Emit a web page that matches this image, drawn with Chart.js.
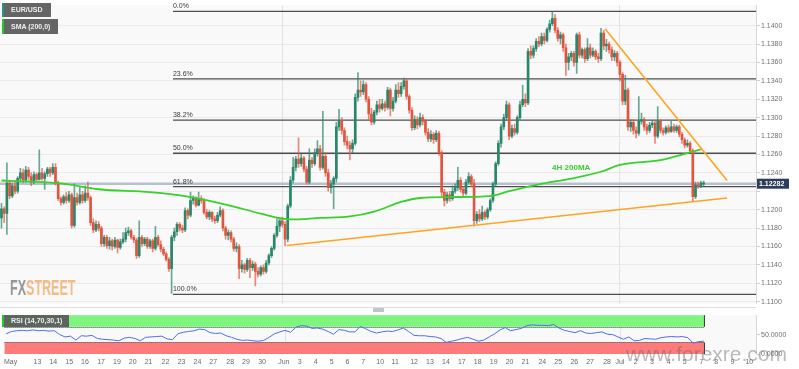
<!DOCTYPE html>
<html><head><meta charset="utf-8">
<script src="https://cdn.jsdelivr.net/npm/chart.js@4.4.1/dist/chart.umd.min.js"></script>
<style>
html,body{margin:0;padding:0;background:#fff;overflow:hidden}
#wrap{position:relative;width:799px;height:369px;font-family:"Liberation Sans",Arial,sans-serif}
canvas{position:absolute;left:0}
#c1{top:0}
#c2{top:310px}
.tag{position:absolute;left:2px;background:rgba(88,88,88,0.92);color:#f0f0f0;font-size:7px;font-weight:bold;box-sizing:border-box;padding-left:7px;white-space:nowrap}
#sep{position:absolute;left:0;top:307px;width:756px;height:1px;background:#dedee2}
#handle{position:absolute;left:373px;top:308px;width:11px;height:4px;background:#c4c4c8}
#logo{position:absolute;left:10px;top:275px;font-weight:bold;font-size:22px;transform:scaleX(0.57);transform-origin:left top;letter-spacing:0;opacity:0.85}
#wm{position:absolute;left:626px;top:342px;font-size:21px;color:rgba(105,105,105,0.45);white-space:nowrap}
</style></head>
<body><div id="wrap">
<canvas id="c1" width="799" height="309"></canvas>
<canvas id="c2" width="799" height="59"></canvas>
<div id="sep"></div><div id="handle"></div>
<div class="tag" style="top:3px;width:49px;height:14px;line-height:14px;border-left:2px solid #2b8f8f">EUR/USD</div>
<div class="tag" style="top:19px;width:56px;height:15px;line-height:15px;border-left:2px solid #22cc22">SMA (200,0)</div>
<div class="tag" style="top:315px;width:67px;height:12px;line-height:12px;border-left:2px solid #22cc22">RSI (14,70,30,1)</div>
<div id="logo"><span style="color:#858585">FX</span><span style="color:#f0b272">STREET</span></div>
<div id="wm">www.forexre.com</div>
</div>
<script>
// ---- 4H candles, EUR/USD ----
const opens = [
1.1191,1.1201,1.1196,1.1229,1.1215,1.1226,1.1220,1.1234,1.1240,1.1232,
1.1243,1.1236,1.1230,1.1238,1.1233,1.1240,1.1234,1.1239,1.1244,1.1240,
1.1246,1.1229,1.1212,1.1208,1.1214,1.1210,1.1216,1.1183,1.1213,1.1208,
1.1216,1.1210,1.1218,1.1213,1.1186,1.1178,1.1184,1.1180,1.1163,1.1170,
1.1161,1.1166,1.1160,1.1167,1.1159,1.1165,1.1168,1.1175,1.1177,1.1170,
1.1167,1.1150,1.1170,1.1163,1.1168,1.1160,1.1166,1.1158,1.1170,1.1162,
1.1157,1.1152,1.1146,1.1136,1.1170,1.1176,1.1184,1.1180,1.1178,1.1199,
1.1194,1.1210,1.1213,1.1205,1.1212,1.1210,1.1197,1.1192,1.1197,1.1190,
1.1188,1.1194,1.1199,1.1180,1.1172,1.1175,1.1168,1.1158,1.1160,1.1136,
1.1140,1.1135,1.1145,1.1137,1.1141,1.1133,1.1130,1.1137,1.1133,1.1142,
1.1150,1.1158,1.1172,1.1182,1.1188,1.1184,1.1168,1.1204,1.1232,1.1246,
1.1255,1.1250,1.1256,1.1244,1.1230,1.1254,1.1250,1.1262,1.1266,1.1246,
1.1258,1.1240,1.1224,1.1228,1.1234,1.1290,1.1296,1.1286,1.1274,1.1270,
1.1266,1.1272,1.1322,1.1330,1.1328,1.1336,1.1320,1.1304,1.1295,1.1306,
1.1314,1.1310,1.1315,1.1311,1.1330,1.1310,1.1318,1.1330,1.1326,1.1334,
1.1340,1.1323,1.1308,1.1289,1.1298,1.1292,1.1300,1.1296,1.1284,1.1277,
1.1282,1.1276,1.1283,1.1262,1.1219,1.1210,1.1216,1.1212,1.1220,1.1224,
1.1232,1.1222,1.1218,1.1230,1.1236,1.1228,1.1188,1.1195,1.1190,1.1197,
1.1192,1.1200,1.1210,1.1228,1.1250,1.1272,1.1290,1.1300,1.1314,1.1280,
1.1288,1.1284,1.1300,1.1314,1.1320,1.1316,1.1372,1.1368,1.1375,1.1383,
1.1380,1.1388,1.1384,1.1396,1.1402,1.1408,1.1395,1.1386,1.1390,1.1376,
1.1360,1.1366,1.1370,1.1360,1.1390,1.1368,1.1374,1.1364,1.1376,1.1368,
1.1372,1.1366,1.1364,1.1392,1.1378,1.1380,1.1374,1.1366,1.1370,1.1360,
1.1347,1.1318,1.1330,1.1290,1.1295,1.1286,1.1283,1.1296,1.1298,1.1290,
1.1286,1.1292,1.1294,1.1280,1.1296,1.1286,1.1284,1.1289,1.1285,1.1290,
1.1286,1.1290,1.1282,1.1276,1.1270,1.1272,1.1264,1.1214,1.1227,1.1225,1.1228];
const highs = [
1.1207,1.1203,1.1251,1.1232,1.1229,1.1230,1.1236,1.1245,1.1244,1.1247,
1.1246,1.1240,1.1241,1.1240,1.1265,1.1245,1.1241,1.1246,1.1246,1.1250,
1.1250,1.1231,1.1214,1.1216,1.1219,1.1220,1.1218,1.1228,1.1218,1.1224,
1.1220,1.1226,1.1230,1.1215,1.1190,1.1188,1.1187,1.1182,1.1172,1.1172,
1.1170,1.1168,1.1170,1.1168,1.1168,1.1175,1.1180,1.1181,1.1179,1.1172,
1.1169,1.1188,1.1172,1.1170,1.1170,1.1168,1.1168,1.1182,1.1172,1.1166,
1.1159,1.1154,1.1148,1.1172,1.1180,1.1186,1.1186,1.1183,1.1202,1.1201,
1.1219,1.1215,1.1214,1.1219,1.1215,1.1212,1.1200,1.1199,1.1198,1.1193,
1.1197,1.1203,1.1201,1.1182,1.1178,1.1177,1.1170,1.1164,1.1162,1.1145,
1.1142,1.1147,1.1147,1.1144,1.1143,1.1137,1.1139,1.1140,1.1145,1.1152,
1.1160,1.1174,1.1190,1.1191,1.1192,1.1187,1.1206,1.1236,1.1257,1.1258,
1.1278,1.1260,1.1258,1.1247,1.1266,1.1257,1.1266,1.1275,1.1270,1.1307,
1.1262,1.1244,1.1232,1.1236,1.1295,1.1309,1.1300,1.1289,1.1280,1.1274,
1.1276,1.1326,1.1349,1.1340,1.1340,1.1338,1.1323,1.1310,1.1308,1.1318,
1.1320,1.1320,1.1318,1.1333,1.1332,1.1322,1.1336,1.1338,1.1338,1.1343,
1.1342,1.1325,1.1311,1.1302,1.1301,1.1305,1.1303,1.1298,1.1288,1.1286,
1.1284,1.1286,1.1285,1.1264,1.1222,1.1219,1.1220,1.1226,1.1228,1.1246,
1.1235,1.1225,1.1233,1.1240,1.1238,1.1233,1.1198,1.1200,1.1204,1.1199,
1.1202,1.1212,1.1230,1.1252,1.1275,1.1293,1.1304,1.1318,1.1316,1.1292,
1.1293,1.1302,1.1318,1.1335,1.1326,1.1375,1.1378,1.1378,1.1386,1.1388,
1.1392,1.1392,1.1398,1.1406,1.1415,1.1412,1.1398,1.1393,1.1392,1.1380,
1.1370,1.1372,1.1372,1.1392,1.1393,1.1376,1.1376,1.1386,1.1380,1.1376,
1.1374,1.1370,1.1397,1.1395,1.1385,1.1382,1.1377,1.1373,1.1372,1.1362,
1.1349,1.1346,1.1332,1.1298,1.1298,1.1290,1.1323,1.1305,1.1300,1.1293,
1.1295,1.1297,1.1296,1.1312,1.1298,1.1289,1.1291,1.1292,1.1296,1.1293,
1.1292,1.1292,1.1284,1.1278,1.1276,1.1274,1.1266,1.1230,1.1230,1.1231,1.1231];
const lows = [
1.1180,1.1186,1.1173,1.1212,1.1213,1.1217,1.1218,1.1230,1.1229,1.1230,
1.1233,1.1226,1.1228,1.1231,1.1232,1.1232,1.1222,1.1236,1.1236,1.1238,
1.1227,1.1210,1.1205,1.1206,1.1207,1.1208,1.1180,1.1181,1.1205,1.1206,
1.1207,1.1208,1.1210,1.1183,1.1175,1.1176,1.1177,1.1160,1.1160,1.1158,
1.1157,1.1156,1.1158,1.1153,1.1157,1.1163,1.1165,1.1172,1.1168,1.1164,
1.1147,1.1148,1.1160,1.1161,1.1158,1.1158,1.1154,1.1156,1.1160,1.1154,
1.1150,1.1144,1.1133,1.1109,1.1166,1.1172,1.1177,1.1175,1.1176,1.1190,
1.1192,1.1206,1.1203,1.1204,1.1207,1.1195,1.1190,1.1189,1.1187,1.1185,
1.1186,1.1192,1.1177,1.1168,1.1167,1.1165,1.1155,1.1154,1.1125,1.1132,
1.1131,1.1133,1.1126,1.1134,1.1117,1.1127,1.1128,1.1130,1.1131,1.1140,
1.1148,1.1156,1.1170,1.1176,1.1181,1.1161,1.1165,1.1202,1.1229,1.1242,
1.1246,1.1247,1.1241,1.1228,1.1228,1.1246,1.1248,1.1258,1.1243,1.1244,
1.1236,1.1220,1.1218,1.1201,1.1230,1.1286,1.1282,1.1270,1.1266,1.1254,
1.1262,1.1270,1.1318,1.1323,1.1325,1.1317,1.1298,1.1292,1.1293,1.1303,
1.1306,1.1308,1.1307,1.1309,1.1302,1.1307,1.1316,1.1322,1.1323,1.1331,
1.1320,1.1305,1.1286,1.1287,1.1288,1.1290,1.1292,1.1281,1.1274,1.1274,
1.1272,1.1274,1.1259,1.1215,1.1204,1.1207,1.1209,1.1210,1.1218,1.1221,
1.1219,1.1215,1.1216,1.1228,1.1225,1.1182,1.1185,1.1187,1.1188,1.1189,
1.1190,1.1198,1.1208,1.1226,1.1248,1.1268,1.1287,1.1297,1.1276,1.1278,
1.1281,1.1282,1.1298,1.1312,1.1312,1.1314,1.1364,1.1365,1.1372,1.1377,
1.1378,1.1380,1.1382,1.1393,1.1400,1.1392,1.1383,1.1380,1.1372,1.1346,
1.1352,1.1362,1.1356,1.1348,1.1365,1.1365,1.1360,1.1362,1.1365,1.1366,
1.1363,1.1360,1.1362,1.1374,1.1372,1.1370,1.1362,1.1362,1.1356,1.1340,
1.1314,1.1314,1.1286,1.1285,1.1282,1.1278,1.1281,1.1293,1.1286,1.1282,
1.1284,1.1289,1.1272,1.1278,1.1283,1.1281,1.1282,1.1283,1.1284,1.1284,
1.1284,1.1279,1.1272,1.1267,1.1268,1.1262,1.1209,1.1212,1.1223,1.1224,1.1226];
const closes = [
1.1201,1.1196,1.1229,1.1215,1.1226,1.1220,1.1234,1.1240,1.1232,1.1243,
1.1236,1.1230,1.1238,1.1233,1.1240,1.1234,1.1239,1.1244,1.1240,1.1246,
1.1229,1.1212,1.1208,1.1214,1.1210,1.1216,1.1183,1.1213,1.1208,1.1216,
1.1210,1.1218,1.1213,1.1186,1.1178,1.1184,1.1180,1.1163,1.1170,1.1161,
1.1166,1.1160,1.1167,1.1159,1.1165,1.1168,1.1175,1.1177,1.1170,1.1167,
1.1150,1.1170,1.1163,1.1168,1.1160,1.1166,1.1158,1.1170,1.1162,1.1157,
1.1152,1.1146,1.1136,1.1170,1.1176,1.1184,1.1180,1.1178,1.1199,1.1194,
1.1210,1.1213,1.1205,1.1212,1.1210,1.1197,1.1192,1.1197,1.1190,1.1188,
1.1194,1.1199,1.1180,1.1172,1.1175,1.1168,1.1158,1.1160,1.1136,1.1140,
1.1135,1.1145,1.1137,1.1141,1.1133,1.1130,1.1137,1.1133,1.1142,1.1150,
1.1158,1.1172,1.1182,1.1188,1.1184,1.1168,1.1204,1.1232,1.1246,1.1255,
1.1250,1.1256,1.1244,1.1230,1.1254,1.1250,1.1262,1.1266,1.1246,1.1258,
1.1240,1.1224,1.1228,1.1234,1.1290,1.1296,1.1286,1.1274,1.1270,1.1266,
1.1272,1.1322,1.1330,1.1328,1.1336,1.1320,1.1304,1.1295,1.1306,1.1314,
1.1310,1.1315,1.1311,1.1330,1.1310,1.1318,1.1330,1.1326,1.1334,1.1340,
1.1323,1.1308,1.1289,1.1298,1.1292,1.1300,1.1296,1.1284,1.1277,1.1282,
1.1276,1.1283,1.1262,1.1219,1.1210,1.1216,1.1212,1.1220,1.1224,1.1232,
1.1222,1.1218,1.1230,1.1236,1.1228,1.1188,1.1195,1.1190,1.1197,1.1192,
1.1200,1.1210,1.1228,1.1250,1.1272,1.1290,1.1300,1.1314,1.1280,1.1288,
1.1284,1.1300,1.1314,1.1320,1.1316,1.1372,1.1368,1.1375,1.1383,1.1380,
1.1388,1.1384,1.1396,1.1402,1.1408,1.1395,1.1386,1.1390,1.1376,1.1360,
1.1366,1.1370,1.1360,1.1390,1.1368,1.1374,1.1364,1.1376,1.1368,1.1372,
1.1366,1.1364,1.1392,1.1378,1.1380,1.1374,1.1366,1.1370,1.1360,1.1347,
1.1318,1.1330,1.1290,1.1295,1.1286,1.1283,1.1296,1.1298,1.1290,1.1286,
1.1292,1.1294,1.1280,1.1296,1.1286,1.1284,1.1289,1.1285,1.1290,1.1286,
1.1290,1.1282,1.1276,1.1270,1.1272,1.1264,1.1214,1.1227,1.1225,1.1229,1.12282];

// SMA(200) on 4H, sampled at candle indices
const smaIdx  = [0,10,22,36,55,70,85,96,107,118,129,138,148,155,166,181,188,199,211,222,229,244,255,259];
const smaVals = [1.12317,1.12306,1.12285,1.12222,1.12190,1.12137,1.12042,1.11957,1.11894,1.11910,1.11926,1.11979,
                 1.12084,1.12127,1.12137,1.12148,1.12201,1.12275,1.12338,1.12412,1.12486,1.12539,1.12623,1.12655];

// RSI(14), one value every 2 candles
const rsi = [52,58,60,61,60,62,60,61,59,60,
 50,44,46,36,47,46,48,40,38,37,
 36,34,41,43,40,34,43,44,45,46,
 39,37,52,56,58,60,64,63,55,53,
 54,47,43,38,35,36,34,33,35,43,
 52,57,61,56,69,73,72,66,67,64,
 58,51,63,61,57,57,71,65,58,54,
 57,59,58,62,67,58,48,47,47,45,
 44,40,30,33,36,40,43,38,33,36,
 44,52,62,68,60,63,66,73,75,74,
 74,73,76,67,61,58,55,60,54,53,
 55,57,51,50,44,38,44,34,35,40,
 39,38,42,44,45,44,45,42,28,32,
 33];

// Fibonacci retracement (high 25 Jun, low 23 May)
const fibLabels = ['0.0%','23.6%','38.2%','50.0%','61.8%','100.0%'];
const fibLevels = [1.14155,1.13422,1.12974,1.12613,1.12251,1.11080];
const fibStartIdx = 63.5;

// trend lines [index, price]
const supportLine    = [[105.6,1.11610],[268.7,1.12127]];
const resistanceLine = [[223.5,1.13966],[268.7,1.12317]];
const maLabel = {x:203.9, y:1.12452, text:'4H 200MA'};

// axis ticks
const priceTicks = [1.1100,1.1120,1.1140,1.1160,1.1180,1.1200,1.1220,1.1240,1.1260,1.1280,1.1300,1.1320,1.1340,1.1360,1.1380,1.1400];
const rsiTicks = [0,50];
const tickLabels = ['May','13','14','15','16','17','19','20','21','22','23','24','27','28','29','30',
 'Jun','3','4','5','6','7','10','11','12','13','14','17','18','19','20','21','24','25','26','27','28',
 'Jul','2','3','4','5','7','8','9','10'];
const tickPos = [1.7,11.7,17.6,23.5,29.4,35.4,41.3,47.2,53.1,59.4,65.4,71.3,77.2,83.5,89.4,95.4,
 103.5,109.4,115.4,121.3,127.2,133.1,139.4,145.0,152.0,157.9,163.9,169.8,175.7,181.7,187.6,193.5,199.8,205.7,211.7,217.6,223.9,
 228.7,234.6,240.6,246.9,252.8,259.1,264.6,270.6,276.9];
const monthPos = [103.9,228.7];

const xMin = -0.55, xMax = 279.4;
const yMin = 1.10977, yMax = 1.14222;
const lastIdx = closes.length - 1;
const lastPrice = closes[lastIdx];

const UP = '#2a8669', DN = '#e1553f';
const UPW = 'rgba(42,134,105,0.7)', DNW = 'rgba(225,85,63,0.7)';
const idx = closes.map((_, i) => i);
const isUp = idx.map(i => closes[i] >= opens[i]);

const FONT = '"Liberation Sans", Arial, sans-serif';
const axisFont = {family: FONT, size: 7};

const bgPlugin = {
  id: 'bgfill',
  beforeDraw(ch) {
    const {ctx, chartArea: a} = ch;
    ctx.save();
    ctx.fillStyle = '#ffffff'; ctx.fillRect(0, 0, ch.width, ch.height);
    ctx.fillStyle = '#f9f9fa'; ctx.fillRect(a.left, a.top, a.right - a.left, a.bottom - a.top);
    ctx.restore();
  }
};
const monthLines = {
  id: 'monthlines',
  beforeDatasetsDraw(ch) {
    const {ctx, chartArea: a, scales: {x}} = ch;
    ctx.save(); ctx.strokeStyle = '#e2e2e6'; ctx.lineWidth = 1;
    monthPos.forEach(m => { const px = Math.round(x.getPixelForValue(m)) + 0.5;
      ctx.beginPath(); ctx.moveTo(px, a.top); ctx.lineTo(px, a.bottom); ctx.stroke(); });
    ctx.restore();
  }
};
const mainOverlay = {
  id: 'mainOverlay',
  afterDatasetsDraw(ch) {
    const {ctx, chartArea: a, scales: {x, y}} = ch;
    ctx.save();
    ctx.font = '7px ' + FONT; ctx.fillStyle = '#3a3a3a'; ctx.textAlign = 'left'; ctx.textBaseline = 'bottom';
    const fx = x.getPixelForValue(fibStartIdx);
    fibLevels.forEach((lv, i) => ctx.fillText(fibLabels[i], fx, y.getPixelForValue(lv) - 1.5));
    ctx.font = 'bold 8px ' + FONT; ctx.fillStyle = '#3ccc2e'; ctx.textBaseline = 'middle';
    ctx.fillText(maLabel.text, x.getPixelForValue(maLabel.x), y.getPixelForValue(maLabel.y));
    const py = y.getPixelForValue(lastPrice);
    ctx.fillStyle = '#2c3e5c';
    ctx.fillRect(a.right + 1, py - 5, 32, 10);
    ctx.fillStyle = '#ffffff'; ctx.font = 'bold 7px ' + FONT; ctx.textBaseline = 'middle';
    ctx.fillText(lastPrice.toFixed(5), a.right + 3, py + 0.5);
    ctx.restore();
  }
};

const line = (pts, color, width, order, extra) => Object.assign({
  type: 'line', data: pts.map(p => ({x: p[0], y: p[1]})), borderColor: color, borderWidth: width,
  pointRadius: 0, fill: false, order: order, tension: 0
}, extra || {});

const datasets = [];
fibLevels.forEach(lv => datasets.push(line([[fibStartIdx, lv], [xMax, lv]], '#4e4e4e', 1.3, 20)));
datasets.push(line([[xMin, lastPrice], [xMax, lastPrice]], '#b6c0d0', 2.5, 19));
datasets.push({type: 'bar', data: idx.map(i => ({x: i, y: [lows[i], highs[i]]})),
  backgroundColor: idx.map(i => isUp[i] ? UPW : DNW), barThickness: 1, grouped: false, order: 15});
datasets.push({type: 'bar', data: idx.map(i => ({x: i, y: [opens[i], closes[i]]})),
  backgroundColor: idx.map(i => isUp[i] ? UP : DN), barThickness: 2, minBarLength: 1, grouped: false, order: 14});
datasets.push(line(smaIdx.map((v, k) => [v, smaVals[k]]), '#38d02a', 1.8, 5, {cubicInterpolationMode: 'monotone'}));
datasets.push(line(supportLine, '#ffa41f', 1.6, 4));
datasets.push(line(resistanceLine, '#ffa41f', 1.6, 4));

new Chart(document.getElementById('c1'), {
  type: 'bar',
  data: {datasets},
  options: {
    responsive: false, animation: false, events: [],
    layout: {padding: {top: 1, bottom: 1, left: 0, right: 0}},
    plugins: {legend: {display: false}, tooltip: {enabled: false}},
    scales: {
      x: {type: 'linear', min: xMin, max: xMax, offset: false, display: false},
      y: {type: 'linear', position: 'right', min: yMin, max: yMax,
        afterBuildTicks: s => { s.ticks = priceTicks.map(v => ({value: v})); },
        afterFit: s => { s.width = 43; },
        ticks: {font: axisFont, color: '#707070', padding: 1,
          callback: v => Math.abs(v - lastPrice) < 0.0009 ? '' : v.toFixed(4)},
        grid: {color: '#ebebee', tickLength: 4, tickColor: '#cfcfd4'},
        border: {color: '#d6d6dc'}}
    }
  },
  plugins: [bgPlugin, monthLines, mainOverlay]
});

// ---- RSI panel ----
const rsiOverlay = {
  id: 'rsiBands',
  beforeDatasetsDraw(ch) {
    const {ctx, chartArea: a, scales: {x, y}} = ch;
    const xr = x.getPixelForValue(lastIdx);
    ctx.save();
    ctx.fillStyle = '#7ef57e';
    ctx.fillRect(a.left, y.getPixelForValue(100), xr - a.left, y.getPixelForValue(70) - y.getPixelForValue(100));
    ctx.fillStyle = '#ff7b7b';
    ctx.fillRect(a.left, y.getPixelForValue(30), xr - a.left, y.getPixelForValue(0) - y.getPixelForValue(30));
    ctx.strokeStyle = '#3c3c3c'; ctx.lineWidth = 1; ctx.setLineDash([1, 1]);
    [70, 30].forEach(v => { const py = Math.round(y.getPixelForValue(v)) + 0.5;
      ctx.beginPath(); ctx.moveTo(a.left, py); ctx.lineTo(xr, py); ctx.stroke(); });
    ctx.setLineDash([]);
    ctx.strokeStyle = '#2f2f2f';
    ctx.beginPath(); ctx.moveTo(xr + 0.5, y.getPixelForValue(100)); ctx.lineTo(xr + 0.5, y.getPixelForValue(70)); ctx.stroke();
    ctx.beginPath(); ctx.moveTo(xr + 0.5, y.getPixelForValue(30)); ctx.lineTo(xr + 0.5, y.getPixelForValue(0)); ctx.stroke();
    ctx.restore();
  }
};

new Chart(document.getElementById('c2'), {
  type: 'line',
  data: {datasets: [{data: rsi.map((v, k) => ({x: k * 2, y: v})), borderColor: '#4d6ef5', borderWidth: 1,
    pointRadius: 0, fill: false, tension: 0}]},
  options: {
    responsive: false, animation: false, events: [],
    layout: {padding: {top: 2, bottom: 0, left: 0, right: 0}},
    plugins: {legend: {display: false}, tooltip: {enabled: false}},
    scales: {
      x: {type: 'linear', min: xMin, max: xMax, offset: false,
        afterBuildTicks: s => { s.ticks = tickPos.map(v => ({value: v})); },
        afterFit: s => { s.height = 15; },
        ticks: {autoSkip: false, maxRotation: 0, font: axisFont, color: '#6a6a6a', padding: 4,
          callback: (v, i) => tickLabels[i]},
        grid: {display: false, drawTicks: false}, border: {display: false}},
      y: {type: 'linear', position: 'right', min: 0, max: 100,
        afterBuildTicks: s => { s.ticks = rsiTicks.map(v => ({value: v})); },
        afterFit: s => { s.width = 43; },
        ticks: {font: axisFont, color: '#707070', padding: 1, callback: v => v.toFixed(4)},
        grid: {drawOnChartArea: false, tickLength: 4, tickColor: '#cfcfd4'},
        border: {color: '#d6d6dc'}}
    }
  },
  plugins: [bgPlugin, monthLines, rsiOverlay]
});
</script>
</body></html>
